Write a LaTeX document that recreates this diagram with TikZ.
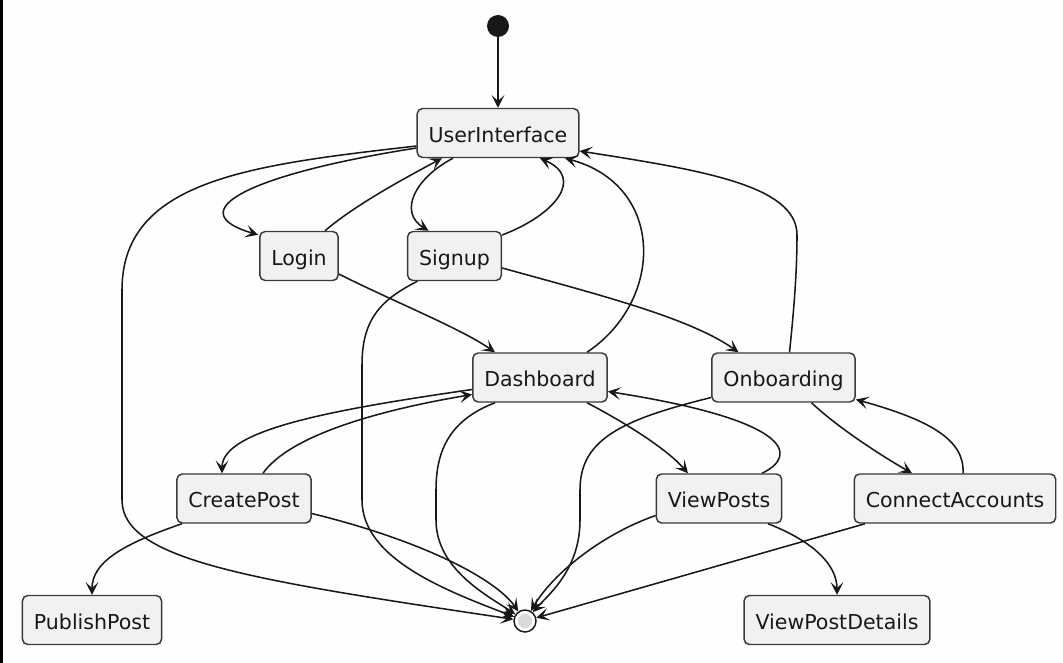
\documentclass[tikz,border=0pt]{standalone}
\usepackage{fontspec}
\setmainfont{DejaVu Sans}
\usetikzlibrary{arrows.meta,calc}
\definecolor{StateFill}{HTML}{F1F1F1}
\definecolor{StateLine}{HTML}{3A3A3A}
\definecolor{EdgeInk}{HTML}{181818}
\definecolor{StopFill}{HTML}{DADADA}
\definecolor{PageWhite}{HTML}{FEFEFE}

\begin{document}
\begin{tikzpicture}[x=0.75pt,y=-0.75pt,
    every node/.style={font=\fontsize{15.4}{18}\selectfont},
    state/.style={draw=StateLine,fill=StateFill,line width=1.1pt,rounded corners=4pt,inner xsep=8.6pt,minimum height=36.75pt,text height=15pt,text depth=1.2pt,text=EdgeInk},
    arr/.style={-{Stealth[length=9.5pt,width=9.5pt,inset=4.5pt]},EdgeInk,line width=1.15pt}
  ]
    \fill[PageWhite] (0,0) rectangle (1063,663);
    \fill[black] (0,0) rectangle (2.5,663);
    \useasboundingbox (0,0) rectangle (1063,663);

    \node[circle,fill=EdgeInk,inner sep=0pt,minimum size=16.5pt] (start) at (498,26) {};
    \node[circle,draw=EdgeInk,line width=1.1pt,fill=white,inner sep=0pt,minimum size=16.5pt,
      path picture={\fill[StopFill] (path picture bounding box.center) circle (5.4pt);}] (stop) at (525,621) {};

    \node[state] (ui) at (498,133) {UserInterface};
    \node[state] (login) at (299,256) {Login};
    \node[state] (signup) at (454.5,256) {Signup};
    \node[state] (dash) at (540,377.5) {Dashboard};
    \node[state] (onb) at (783.5,377.5) {Onboarding};
    \node[state] (create) at (244,498.5) {CreatePost};
    \node[state] (views) at (719,498.5) {ViewPosts};
    \node[state] (conn) at (955,498.5) {ConnectAccounts};
    \node[state] (publish) at (92,620) {PublishPost};
    \node[state] (details) at (837,620) {ViewPostDetails};

    \draw[arr] (start) -- (ui);
    \draw[arr] ($(ui.west)+(0,15)$) .. controls (245,175) and (180,212) .. ($(login.north west)+(-1,4)$);
    \draw[arr] ($(ui.west)+(0,13)$) .. controls (250,165) and (122,180) .. (122,290) -- (122,500) .. controls (122,560) and (250,580) .. (stop);
    \draw[arr] ($(login.north)+(26,0)$) .. controls (355,205) and (405,178) .. ($(ui.south)+(-56,0)$);
    \draw[arr] ($(ui.south)+(-45,0)$) .. controls (415,178) and (398,212) .. ($(signup.north)+(-26,0)$);
    \draw[arr] ($(signup.east)+(0,-21)$) .. controls (555,215) and (585,178) .. ($(ui.south)+(42,0)$);
    \draw[arr] ($(dash.north)+(47,0)$) .. controls (665,300) and (665,185) .. ($(ui.south)+(67,0)$);
    \draw[arr] ($(onb.north)+(6,0)$) .. controls (795,300) and (797,265) .. (797,235) .. controls (797,185) and (700,170) .. ($(ui.east)+(0,18)$);
    \draw[arr] ($(login.east)+(0,18)$) .. controls (390,300) and (460,328) .. ($(dash.north)+(-45,0)$);
    \draw[arr] ($(signup.south)+(-37,0)$) .. controls (380,300) and (362,320) .. (362,365) -- (362,500) .. controls (362,560) and (450,592) .. (stop);
    \draw[arr] ($(signup.east)+(0,12)$) .. controls (600,295) and (690,318) .. ($(onb.north)+(-45,0)$);
    \draw[arr] ($(dash.west)+(0,12)$) .. controls (330,410) and (222,430) .. ($(create.north)+(-22,0)$);
    \draw[arr] ($(create.north)+(19,0)$) .. controls (290,435) and (380,410) .. ($(dash.west)+(0,17)$);
    \draw[arr] ($(dash.south)+(-45,0)$) .. controls (450,420) and (436,450) .. (436,490) -- (436,520) .. controls (436,570) and (490,597) .. (stop);
    \draw[arr] ($(dash.south)+(47,0)$) .. controls (620,420) and (665,447) .. ($(views.north)+(-31,0)$);
    \draw[arr] ($(views.north)+(43,0)$) .. controls (800,455) and (790,420) .. ($(dash.east)+(0,14)$);
    \draw[arr] ($(onb.west)+(0,20)$) .. controls (620,420) and (580,440) .. (580,490) -- (580,520) .. controls (580,570) and (548,595) .. (stop);
    \draw[arr] ($(onb.south)+(28,0)$) .. controls (835,425) and (875,452) .. ($(conn.north)+(-43,0)$);
    \draw[arr] ($(conn.north)+(8,0)$) .. controls (965,440) and (930,420) .. ($(onb.east)+(0,22)$);
    \draw[arr] ($(create.south)+(-62,0)$) .. controls (120,545) and (92,563) .. (publish);
    \draw[arr] ($(create.east)+(0,15)$) .. controls (420,540) and (495,578) .. (stop);
    \draw[arr] ($(views.west)+(0,17)$) .. controls (600,535) and (552,575) .. (stop);
    \draw[arr] ($(views.south)+(49,0)$) .. controls (810,540) and (837,563) .. (details);
    \draw[arr] ($(conn.south)+(-90,0)$) -- (stop);
  \end{tikzpicture}
\end{document}
